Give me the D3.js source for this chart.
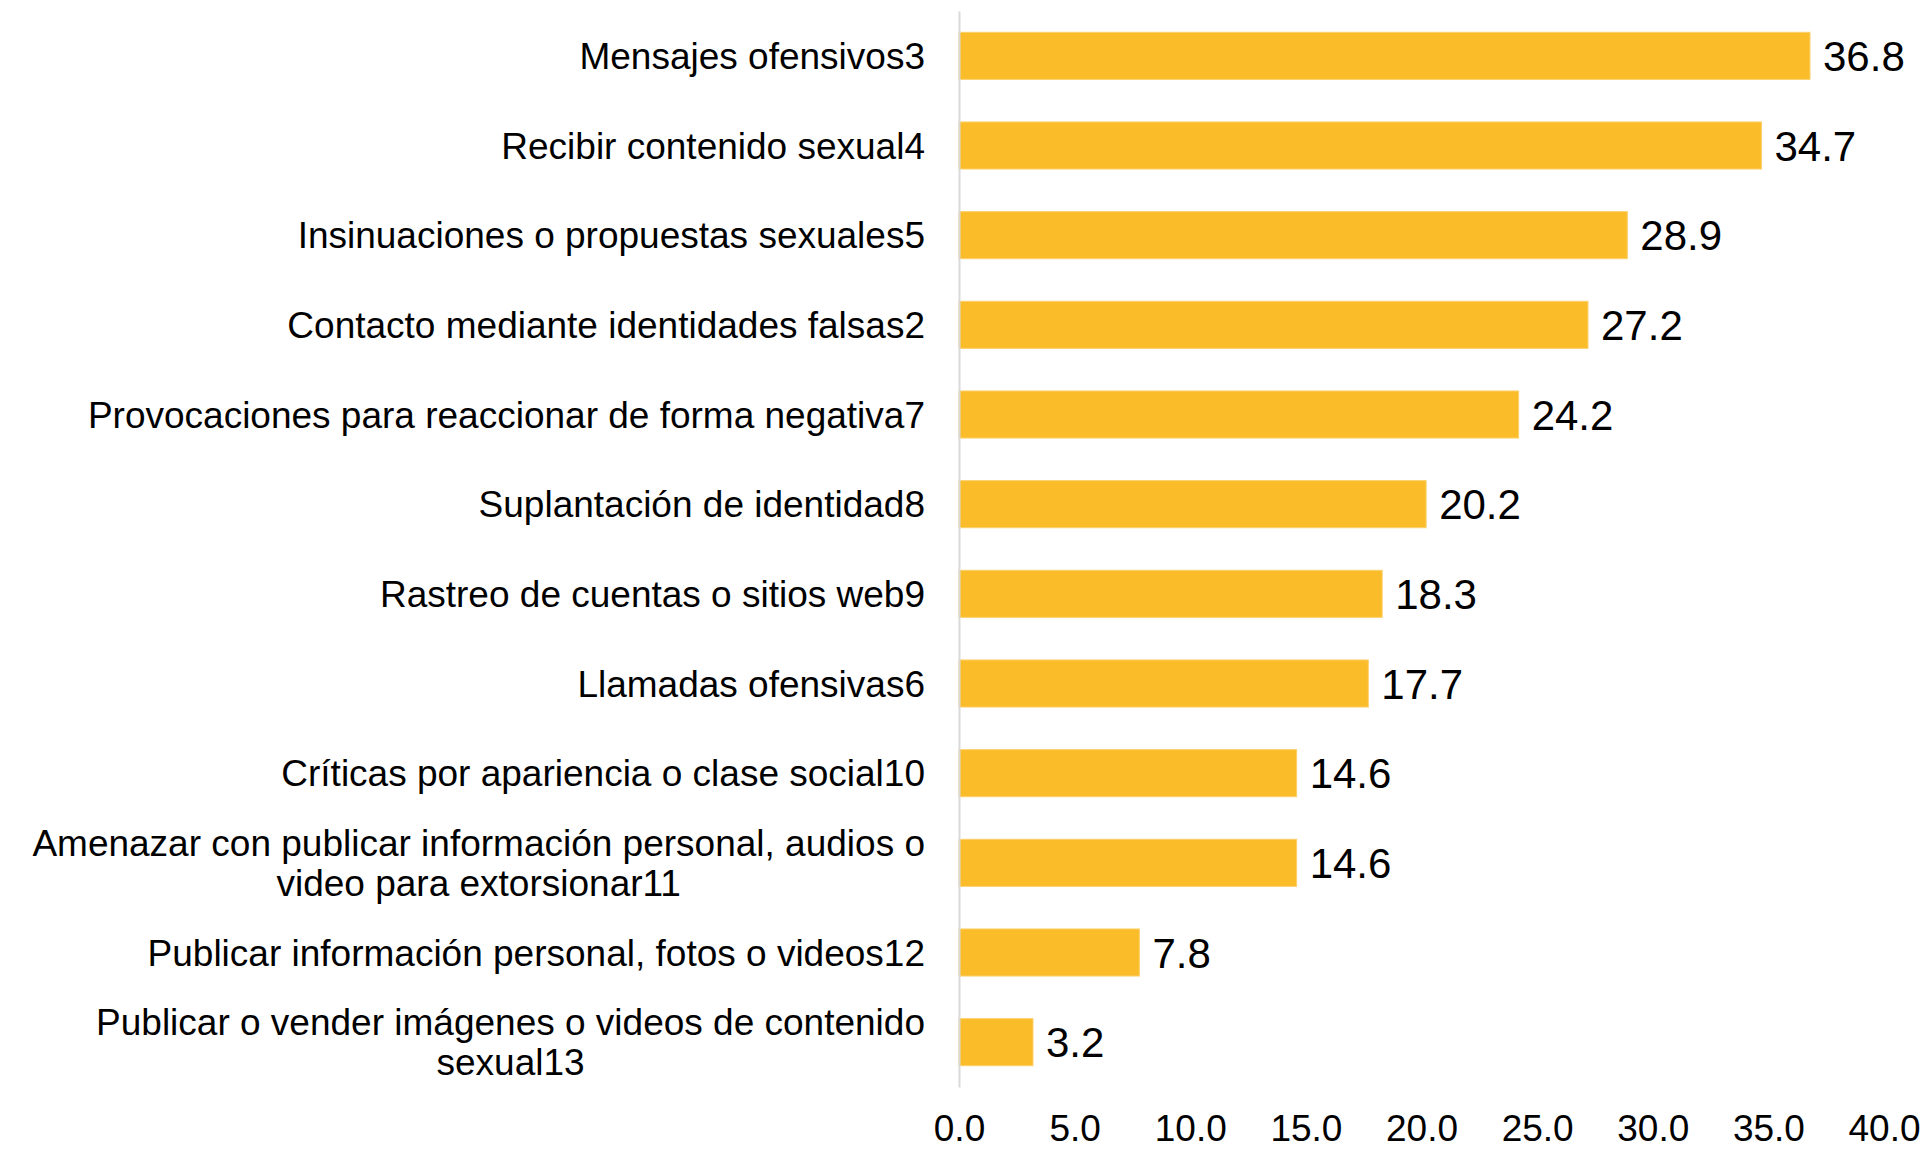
<!DOCTYPE html>
<html>
<head>
<meta charset="utf-8">
<script src="https://cdn.jsdelivr.net/npm/d3@7"></script>
<style>
  body { margin: 0; background: #fff; }
  svg { display: block; font-family: "Liberation Sans", Arial, sans-serif; }
</style>
</head>
<body>
<div id="chart"></div>
<script>
// chart data
const categories = [
  "Mensajes ofensivos3",
  "Recibir contenido sexual4",
  "Insinuaciones o propuestas sexuales5",
  "Contacto mediante identidades falsas2",
  "Provocaciones para reaccionar de forma negativa7",
  "Suplantación de identidad8",
  "Rastreo de cuentas o sitios web9",
  "Llamadas ofensivas6",
  "Críticas por apariencia o clase social10",
  "Amenazar con publicar información personal, audios o video para extorsionar11",
  "Publicar información personal, fotos o videos12",
  "Publicar o vender imágenes o videos de contenido sexual13"
];
const values = [36.8, 34.7, 28.9, 27.2, 24.2, 20.2, 18.3, 17.7, 14.6, 14.6, 7.8, 3.2];
const xTicks = [0, 5, 10, 15, 20, 25, 30, 35, 40];

const width = 1921,
    height = 1150,
    margin = ({ top: 11, right: 37, bottom: 63, left: 959 });

const svg = d3.select("#chart")
  .append("svg")
  .attr("width", width)
  .attr("height", height);

const data = categories.map((c, i) => ({ cat: c, val: values[i] }));

let x = d3.scaleLinear()
  .domain([0, 40])
  .range([margin.left, width - margin.right]);

let y = d3.scaleBand()
  .domain(categories)
  .range([margin.top, height - margin.bottom])
  .paddingInner(0.475)
  .paddingOuter(0.2375);

// bars
svg.append("g")
  .selectAll("rect")
  .data(data)
  .join("rect")
    .attr("x", x(0))
    .attr("y", d => y(d.cat))
    .attr("width", d => x(d.val) - x(0))
    .attr("height", y.bandwidth())
    .attr("fill", "#FBBC2A")
    .attr("stroke", "#FCD06A")
    .attr("stroke-width", 1);

// vertical axis line + category labels
const yAxis = svg.append("g")
  .attr("transform", `translate(${x(0)},0)`)
  .call(d3.axisLeft(y).tickSize(0).tickSizeOuter(0).tickPadding(34));

yAxis.select(".domain")
  .attr("stroke", "#D9D9D9")
  .attr("stroke-width", 2);

yAxis.selectAll(".tick text")
  .attr("font-size", 37)
  .attr("font-family", "Liberation Sans, Arial, sans-serif")
  .attr("fill", "#000")
  .each(function () { wrap(d3.select(this), 920); });

// wrap long labels: block right-aligned, lines centred on each other
function wrap(text, maxW) {
  const words = text.text().split(" ");
  const xPos = +text.attr("x");
  let lines = [], line = [];
  text.text(null).attr("dy", null);
  let probe = text.append("tspan");
  for (const w of words) {
    line.push(w);
    probe.text(line.join(" "));
    if (probe.node().getComputedTextLength() > maxW && line.length > 1) {
      line.pop();
      lines.push(line.join(" "));
      line = [w];
    }
  }
  lines.push(line.join(" "));
  probe.remove();
  if (lines.length === 1) {
    text.append("tspan").attr("x", xPos).attr("dy", "0.36em").text(lines[0]);
    return;
  }
  // measure widest line
  let maxLine = 0;
  lines.forEach(l => {
    const t = text.append("tspan").text(l);
    maxLine = Math.max(maxLine, t.node().getComputedTextLength());
    t.remove();
  });
  const lh = 40;
  const cx = xPos - maxLine / 2;
  text.attr("text-anchor", "middle");
  lines.forEach((l, i) => {
    text.append("tspan")
      .attr("x", cx)
      .attr("y", (i - (lines.length - 1) / 2) * lh)
      .attr("dy", "0.36em")
      .text(l);
  });
}

// value labels
svg.append("g")
  .selectAll("text")
  .data(data)
  .join("text")
    .attr("x", d => x(d.val) + 13)
    .attr("y", d => y(d.cat) + y.bandwidth() / 2)
    .attr("dy", "0.36em")
    .attr("font-size", 42)
    .attr("fill", "#000")
    .text(d => d3.format(".1f")(d.val));

// x tick labels (no axis line)
const xAxis = svg.append("g")
  .attr("transform", `translate(0,${height - 22})`)
  .call(d3.axisBottom(x).tickValues(xTicks).tickFormat(d3.format(".1f")).tickSize(0).tickPadding(0));

xAxis.select(".domain").remove();
xAxis.selectAll(".tick text")
  .attr("font-size", 37)
  .attr("font-family", "Liberation Sans, Arial, sans-serif")
  .attr("fill", "#000")
  .attr("dy", "0.36em");
</script>
</body>
</html>
